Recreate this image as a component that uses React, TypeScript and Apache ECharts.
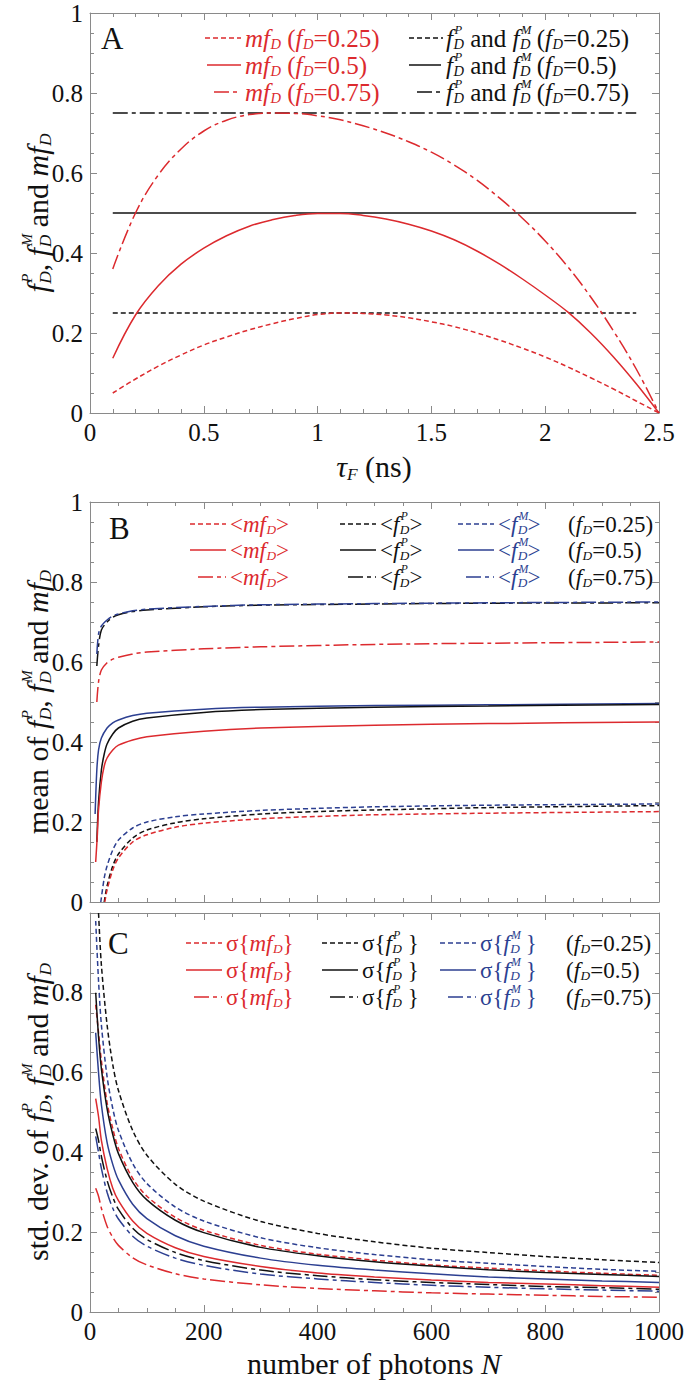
import React, { useEffect, useRef } from "react";
import * as echarts from "echarts";

const RED = "#dc2a2e";
const BLUE = "#2c3f91";
const BLACK = "#111111";
const AXIS = "#8a8a8a";
const SERIF = "'Liberation Serif', serif";

// ---------- Panel A (tau_F in ns) ----------
const tauF = [0.1, 0.2, 0.3, 0.4, 0.5, 0.6, 0.7, 0.8, 0.9, 1.0, 1.1, 1.2, 1.3, 1.4, 1.5, 1.6, 1.7, 1.8, 1.9, 2.0, 2.1, 2.2, 2.3, 2.4, 2.5];
const mfD025 = [0.05, 0.085, 0.117, 0.145, 0.17, 0.19, 0.208, 0.223, 0.236, 0.246, 0.25, 0.249, 0.245, 0.238, 0.228, 0.216, 0.2, 0.182, 0.162, 0.14, 0.115, 0.088, 0.06, 0.03, 0.0];
const mfD050 = [0.137, 0.245, 0.318, 0.372, 0.412, 0.443, 0.467, 0.483, 0.494, 0.499, 0.499, 0.494, 0.485, 0.472, 0.455, 0.433, 0.405, 0.372, 0.335, 0.295, 0.252, 0.2, 0.14, 0.073, 0.0];
const mfD075 = [0.36, 0.5, 0.595, 0.66, 0.705, 0.732, 0.746, 0.75, 0.749, 0.743, 0.733, 0.718, 0.7, 0.678, 0.652, 0.62, 0.582, 0.537, 0.487, 0.43, 0.365, 0.29, 0.205, 0.11, 0.0];
const tauConst = [0.1, 2.4];
const fPM025 = [0.25, 0.25];
const fPM050 = [0.5, 0.5];
const fPM075 = [0.75, 0.75];

// ---------- Panel B (mean vs N) ----------
const nB075 = [12, 15, 20, 30, 40, 50, 75, 100, 200, 300, 500, 700, 1000];
const meanP075 = [0.59, 0.64, 0.68, 0.7, 0.712, 0.718, 0.726, 0.73, 0.738, 0.742, 0.745, 0.747, 0.748];
const meanM075 = [0.62, 0.67, 0.69, 0.705, 0.715, 0.72, 0.728, 0.732, 0.739, 0.743, 0.746, 0.748, 0.75];
const meanMf075 = [0.5, 0.55, 0.58, 0.598, 0.607, 0.612, 0.62, 0.625, 0.633, 0.638, 0.644, 0.647, 0.65];

const nBM050 = [9, 12, 15, 20, 30, 40, 50, 75, 100, 200, 300, 500, 700, 1000];
const meanM050 = [0.22, 0.33, 0.38, 0.41, 0.435, 0.448, 0.455, 0.466, 0.472, 0.482, 0.487, 0.491, 0.493, 0.496];
const nBP050 = [12, 15, 20, 25, 30, 40, 50, 75, 100, 200, 300, 500, 700, 1000];
const meanP050 = [0.15, 0.25, 0.33, 0.37, 0.395, 0.42, 0.435, 0.452, 0.46, 0.474, 0.481, 0.487, 0.49, 0.494];
const nBMf050 = [10, 13, 15, 20, 25, 30, 40, 50, 75, 100, 200, 300, 500, 700, 1000];
const meanMf050 = [0.1, 0.17, 0.23, 0.3, 0.34, 0.36, 0.38, 0.392, 0.405, 0.413, 0.427, 0.435, 0.442, 0.446, 0.45];

const nBM025 = [19, 25, 30, 40, 50, 75, 100, 150, 200, 300, 400, 500, 700, 1000];
const meanM025 = [0.0, 0.06, 0.09, 0.13, 0.155, 0.185, 0.2, 0.213, 0.22, 0.229, 0.234, 0.238, 0.242, 0.245];
const nBP025 = [25, 30, 40, 50, 75, 100, 150, 200, 300, 400, 500, 700, 1000];
const meanP025 = [0.0, 0.04, 0.09, 0.12, 0.16, 0.18, 0.198, 0.208, 0.22, 0.226, 0.23, 0.236, 0.241];
const nBMf025 = [26, 30, 40, 50, 75, 100, 150, 200, 300, 400, 500, 700, 1000];
const meanMf025 = [0.0, 0.03, 0.08, 0.11, 0.15, 0.168, 0.187, 0.197, 0.208, 0.214, 0.218, 0.222, 0.226];

// ---------- Panel C (std. dev. vs N) ----------
const nC = [10, 15, 20, 30, 40, 50, 75, 100, 150, 200, 300, 400, 500, 600, 700, 800, 900, 1000];
const nCP025 = [12, 15, 20, 30, 40, 50, 75, 100, 150, 200, 300, 400, 500, 600, 700, 800, 900, 1000];
const sdP025 = [1.1, 1.0, 0.87, 0.72, 0.62, 0.555, 0.455, 0.393, 0.32, 0.278, 0.227, 0.197, 0.176, 0.16, 0.149, 0.139, 0.131, 0.124];
const sdM025 = [0.98, 0.83, 0.72, 0.59, 0.51, 0.455, 0.372, 0.322, 0.263, 0.228, 0.186, 0.161, 0.144, 0.131, 0.122, 0.114, 0.107, 0.102];
const sdMf025 = [0.77, 0.7, 0.63, 0.525, 0.46, 0.41, 0.335, 0.29, 0.237, 0.205, 0.167, 0.145, 0.13, 0.118, 0.11, 0.103, 0.097, 0.092];
const sdP050 = [0.8, 0.69, 0.61, 0.51, 0.445, 0.397, 0.325, 0.281, 0.23, 0.199, 0.162, 0.141, 0.126, 0.115, 0.106, 0.099, 0.094, 0.089];
const sdM050 = [0.7, 0.6, 0.52, 0.425, 0.37, 0.331, 0.27, 0.234, 0.191, 0.165, 0.135, 0.117, 0.105, 0.096, 0.088, 0.083, 0.078, 0.074];
const sdMf050 = [0.535, 0.49, 0.43, 0.36, 0.31, 0.279, 0.228, 0.197, 0.161, 0.139, 0.114, 0.098, 0.088, 0.08, 0.074, 0.07, 0.066, 0.062];
const sdP075 = [0.46, 0.43, 0.39, 0.33, 0.288, 0.257, 0.21, 0.182, 0.149, 0.129, 0.105, 0.091, 0.081, 0.074, 0.069, 0.064, 0.061, 0.057];
const sdM075 = [0.44, 0.4, 0.36, 0.3, 0.26, 0.233, 0.19, 0.165, 0.135, 0.117, 0.095, 0.083, 0.074, 0.067, 0.062, 0.058, 0.055, 0.052];
const sdMf075 = [0.31, 0.29, 0.26, 0.215, 0.187, 0.167, 0.136, 0.118, 0.096, 0.083, 0.068, 0.059, 0.053, 0.048, 0.045, 0.042, 0.039, 0.037];

const fdLabels = ["0.25", "0.5", "0.75"];

// ---------- styling helpers ----------
const DASH = [5, 3];
const DASHDOT = [15, 4, 4, 4];
const SOLID: any = "solid";
const LW = 1.5;

let measureCtx: CanvasRenderingContext2D | null = null;
function tw(text: string, size: number, italic?: boolean) {
  if (!measureCtx) measureCtx = document.createElement("canvas").getContext("2d");
  measureCtx!.font = `${italic ? "italic " : ""}${size}px ${SERIF}`;
  return measureCtx!.measureText(text).width;
}

type P = { t: string; i?: boolean; s?: number; dy?: number; na?: boolean; gap?: number };

function run(ps: P[], x0: number, y0: number, color: string, base: number) {
  let x = x0;
  const els: any[] = [];
  for (const p of ps) {
    const s = p.s ? p.s * base : base;
    const w = tw(p.t, s, p.i);
    els.push({
      type: "text",
      x: x + (p.gap || 0),
      y: y0 + (p.dy ? p.dy * base : 0),
      silent: true,
      style: {
        text: p.t,
        fontFamily: SERIF,
        fontSize: s,
        fontStyle: p.i ? "italic" : "normal",
        fill: color,
        textAlign: "left",
        textVerticalAlign: "middle",
        align: "left",
        verticalAlign: "middle",
      },
    });
    if (!p.na) x += w + (p.gap || 0);
  }
  return { els, w: x - x0 };
}

const fSubD = (): P[] => [{ t: "f", i: true }, { t: "D", i: true, s: 0.58, dy: 0.25, gap: 0.5 }];
const mfSubD = (): P[] => [{ t: "mf", i: true }, { t: "D", i: true, s: 0.58, dy: 0.25, gap: 0.5 }];
const fDsup = (sup: string): P[] => [
  { t: "f", i: true },
  { t: sup, i: true, s: 0.5, dy: -0.33, na: true, gap: 1.5 },
  { t: "D", i: true, s: 0.58, dy: 0.25, gap: 0.5 },
];

function legendLine(x1: number, x2: number, y: number, color: string, dash: any) {
  return {
    type: "line",
    silent: true,
    shape: { x1, y1: y, x2, y2: y },
    style: { stroke: color, lineWidth: LW, lineDash: dash === SOLID ? null : dash },
  };
}

function rotatedTitle(ps: P[], cx: number, cy: number, base: number) {
  const probe = run(ps, 0, 0, BLACK, base);
  const r = run(ps, -probe.w / 2, 0, BLACK, base);
  return { type: "group", x: cx, y: cy, rotation: Math.PI / 2, children: r.els };
}

function centeredTitle(ps: P[], cx: number, cy: number, base: number) {
  const probe = run(ps, 0, 0, BLACK, base);
  return run(ps, cx - probe.w / 2, cy, BLACK, base).els;
}

function buildGraphics() {
  const g: any[] = [];
  const dashes = [DASH, SOLID, DASHDOT];
  g.push(...run([{ t: "A" }], 101, 38, BLACK, 31).els);
  g.push(...run([{ t: "B" }], 109, 528, BLACK, 31).els);
  g.push(...run([{ t: "C" }], 108, 943, BLACK, 31).els);

  const aRows = [38, 65, 92];
  const aRed = [[205, 241], [207, 241], [214, 241]];
  const aBlk = [[409, 443], [409, 441], [417, 441]];
  for (let k = 0; k < 3; k++) {
    const y = aRows[k];
    g.push(legendLine(aRed[k][0], aRed[k][1], y, RED, dashes[k]));
    g.push(...run([...mfSubD(), { t: " (" }, ...fSubD(), { t: "=" + fdLabels[k] + ")" }], 245, y, RED, 25).els);
    g.push(legendLine(aBlk[k][0], aBlk[k][1], y, BLACK, dashes[k]));
    g.push(
      ...run(
        [...fDsup("P"), { t: " and " }, ...fDsup("M"), { t: " (" }, ...fSubD(), { t: "=" + fdLabels[k] + ")" }],
        446,
        y,
        BLACK,
        25
      ).els
    );
  }

  const bRows = [524, 550, 577];
  for (let k = 0; k < 3; k++) {
    const y = bRows[k];
    const off = k === 2 ? 8 : 0;
    g.push(legendLine(190 + off, 226, y, RED, dashes[k]));
    g.push(...run([{ t: "<" }, ...mfSubD(), { t: ">" }], 230, y, RED, 23).els);
    g.push(legendLine(340 + off, 376, y, BLACK, dashes[k]));
    g.push(...run([{ t: "<" }, ...fDsup("P"), { t: ">" }], 380, y, BLACK, 23).els);
    g.push(legendLine(458 + off, 494, y, BLUE, dashes[k]));
    g.push(...run([{ t: "<" }, ...fDsup("M"), { t: ">" }], 498, y, BLUE, 23).els);
    g.push(...run([{ t: "(" }, ...fSubD(), { t: "=" + fdLabels[k] + ")" }], 568, y, BLACK, 23).els);
  }

  const cRows = [943, 970, 997];
  for (let k = 0; k < 3; k++) {
    const y = cRows[k];
    const off = k === 2 ? 8 : 0;
    g.push(legendLine(186 + off, 222, y, RED, dashes[k]));
    g.push(...run([{ t: "σ{" }, ...mfSubD(), { t: "}" }], 226, y, RED, 23).els);
    g.push(legendLine(322 + off, 358, y, BLACK, dashes[k]));
    g.push(...run([{ t: "σ{" }, ...fDsup("P"), { t: " }" }], 362, y, BLACK, 23).els);
    g.push(legendLine(440 + off, 476, y, BLUE, dashes[k]));
    g.push(...run([{ t: "σ{" }, ...fDsup("M"), { t: " }" }], 480, y, BLUE, 23).els);
    g.push(...run([{ t: "(" }, ...fSubD(), { t: "=" + fdLabels[k] + ")" }], 566, y, BLACK, 23).els);
  }

  const tail: P[] = [...fDsup("P"), { t: ", " }, ...fDsup("M"), { t: " and " }, ...mfSubD()];
  g.push(rotatedTitle(tail, 37, 213, 30));
  g.push(rotatedTitle([{ t: "mean of " }, ...tail], 37, 702, 30));
  g.push(rotatedTitle([{ t: "std. dev. of " }, ...tail], 37, 1112, 30));

  g.push(...centeredTitle([{ t: "τ", i: true }, { t: "F", i: true, s: 0.58, dy: 0.25 }, { t: " (ns)" }], 374, 466, 30));
  g.push(...centeredTitle([{ t: "number of photons " }, { t: "N", i: true }], 374, 1363, 30));
  return g;
}

function axisPair(gi: number, min: number, max: number, interval: number, minorSplit: number, isX: boolean, showLabels: boolean, hideMax: boolean) {
  const lineStyle = { color: AXIS, width: 1 };
  const base: any = {
    type: "value",
    gridIndex: gi,
    min,
    max,
    interval,
    axisLine: { show: true, onZero: false, lineStyle },
    axisTick: { show: true, inside: true, length: 7, lineStyle },
    minorTick: { show: true, splitNumber: minorSplit, length: 4, lineStyle },
    splitLine: { show: false },
    minorSplitLine: { show: false },
  };
  const primary = {
    ...base,
    position: isX ? "bottom" : "left",
    axisLabel: {
      show: showLabels,
      fontFamily: SERIF,
      fontSize: 25,
      color: BLACK,
      margin: 7,
      formatter: (v: number) => (hideMax && v === max ? "" : String(v)),
    },
  };
  const secondary = { ...base, position: isX ? "top" : "right", axisLabel: { show: false } };
  return [primary, secondary];
}

function pairs(xs: number[], ys: number[]) {
  return xs.map((x, i) => [x, ys[i]]);
}

function line(name: string, gi: number, xs: number[], ys: number[], color: string, dash: any, smooth = 0.3) {
  return {
    name,
    type: "line",
    xAxisIndex: gi * 2,
    yAxisIndex: gi * 2,
    data: pairs(xs, ys),
    showSymbol: false,
    symbol: "none",
    smooth,
    clip: true,
    lineStyle: { color, width: LW, type: dash },
  };
}

export default function App() {
  const ref = useRef<HTMLDivElement>(null);
  useEffect(() => {
    if (!ref.current) return;
    const chart = echarts.init(ref.current, undefined, { renderer: "svg" });
    const xA = axisPair(0, 0, 2.5, 0.5, 5, true, true, false);
    const yA = axisPair(0, 0, 1, 0.2, 4, false, true, false);
    const xB = axisPair(1, 0, 1000, 200, 4, true, false, false);
    const yB = axisPair(1, 0, 1, 0.2, 4, false, true, false);
    const xC = axisPair(2, 0, 1000, 200, 4, true, true, false);
    const yC = axisPair(2, 0, 1, 0.2, 4, false, true, true);
    const option: any = {
      animation: false,
      backgroundColor: "#ffffff",
      grid: [
        { left: 90, top: 13, width: 569, height: 400 },
        { left: 90, top: 502, width: 569, height: 400 },
        { left: 90, top: 913, width: 569, height: 399 },
      ],
      xAxis: [...xA, ...xB, ...xC],
      yAxis: [...yA, ...yB, ...yC],
      series: [
        line("fPM 0.25", 0, tauConst, fPM025, BLACK, DASH, 0),
        line("fPM 0.5", 0, tauConst, fPM050, BLACK, SOLID, 0),
        line("fPM 0.75", 0, tauConst, fPM075, BLACK, DASHDOT, 0),
        line("mfD 0.25", 0, tauF, mfD025, RED, DASH, 0.4),
        line("mfD 0.5", 0, tauF, mfD050, RED, SOLID, 0.4),
        line("mfD 0.75", 0, tauF, mfD075, RED, DASHDOT, 0.4),

        line("<fP> 0.75", 1, nB075, meanP075, BLACK, DASHDOT),
        line("<fM> 0.75", 1, nB075, meanM075, BLUE, DASHDOT),
        line("<mfD> 0.75", 1, nB075, meanMf075, RED, DASHDOT),
        line("<fM> 0.5", 1, nBM050, meanM050, BLUE, SOLID),
        line("<fP> 0.5", 1, nBP050, meanP050, BLACK, SOLID),
        line("<mfD> 0.5", 1, nBMf050, meanMf050, RED, SOLID),
        line("<fM> 0.25", 1, nBM025, meanM025, BLUE, DASH),
        line("<fP> 0.25", 1, nBP025, meanP025, BLACK, DASH),
        line("<mfD> 0.25", 1, nBMf025, meanMf025, RED, DASH),

        line("σ fP 0.25", 2, nCP025, sdP025, BLACK, DASH),
        line("σ fM 0.25", 2, nC, sdM025, BLUE, DASH),
        line("σ mfD 0.25", 2, nC, sdMf025, RED, DASH),
        line("σ fP 0.5", 2, nC, sdP050, BLACK, SOLID),
        line("σ fM 0.5", 2, nC, sdM050, BLUE, SOLID),
        line("σ mfD 0.5", 2, nC, sdMf050, RED, SOLID),
        line("σ fP 0.75", 2, nC, sdP075, BLACK, DASHDOT),
        line("σ fM 0.75", 2, nC, sdM075, BLUE, DASHDOT),
        line("σ mfD 0.75", 2, nC, sdMf075, RED, DASHDOT),
      ],
      graphic: buildGraphics(),
    };
    chart.setOption(option);
    return () => chart.dispose();
  }, []);
  return (
    <div
      ref={ref}
      style={{ position: "absolute", left: 0, top: 0, width: 687, height: 1384, background: "#ffffff" }}
    />
  );
}
